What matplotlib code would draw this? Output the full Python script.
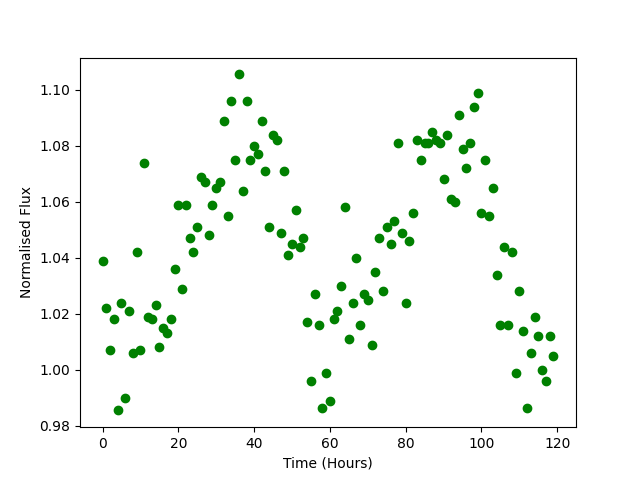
import numpy as np
import matplotlib
matplotlib.use("Agg")
import matplotlib.pyplot as plt

hours = np.arange(120)
flux = [
    1.039, 1.022, 1.007, 1.018, 0.9855, 1.024, 0.990, 1.021, 1.006, 1.042,
    1.007, 1.074, 1.019, 1.018, 1.023, 1.008, 1.015, 1.013, 1.018, 1.036,
    1.059, 1.029, 1.059, 1.047, 1.042, 1.051, 1.069, 1.067, 1.048, 1.059,
    1.065, 1.067, 1.089, 1.055, 1.096, 1.075, 1.1055, 1.064, 1.096, 1.075,
    1.080, 1.077, 1.089, 1.071, 1.051, 1.084, 1.082, 1.049, 1.071, 1.041,
    1.045, 1.057, 1.044, 1.047, 1.017, 0.996, 1.027, 1.016, 0.9865, 0.999,
    0.989, 1.018, 1.021, 1.030, 1.058, 1.011, 1.024, 1.040, 1.016, 1.027,
    1.025, 1.009, 1.035, 1.047, 1.028, 1.051, 1.045, 1.053, 1.081, 1.049,
    1.024, 1.046, 1.056, 1.082, 1.075, 1.081, 1.081, 1.085, 1.082, 1.081,
    1.068, 1.084, 1.061, 1.060, 1.091, 1.079, 1.072, 1.081, 1.094, 1.099,
    1.056, 1.075, 1.055, 1.065, 1.034, 1.016, 1.044, 1.016, 1.042, 0.999,
    1.028, 1.014, 0.9865, 1.006, 1.019, 1.012, 1.000, 0.996, 1.012, 1.005,
]

fig, ax = plt.subplots(figsize=(6.4, 4.8), dpi=100)
ax.scatter(hours, flux, color="green")
ax.set_xlabel("Time (Hours)")
ax.set_ylabel("Normalised Flux")
plt.savefig("out.png", dpi=100)
